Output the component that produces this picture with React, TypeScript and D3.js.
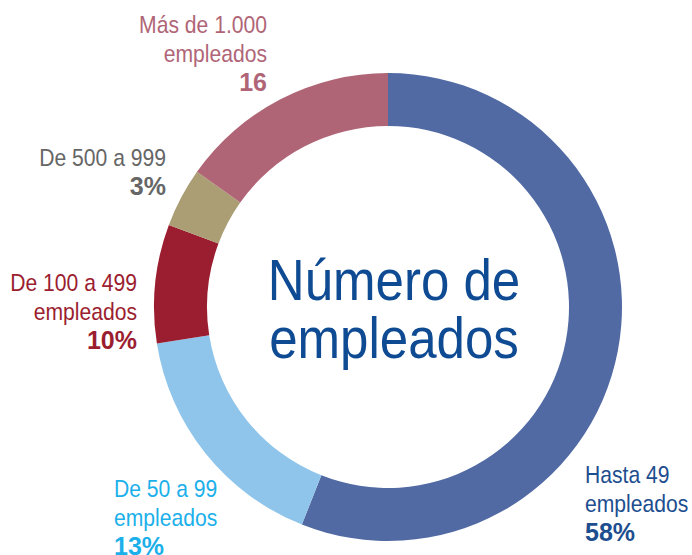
import * as d3 from "d3";

// segment sizes as drawn in the ring (percent of the circle), clockwise from 12 o'clock
const categories = ["Hasta 49", "De 50 a 99", "De 100 a 499", "De 500 a 999", "Más de 1.000"];
const shares = [56.0, 16.5, 8.2, 4.1, 15.2];
const labelValues = ["58%", "13%", "10%", "3%", "16"];
const sliceColors = ["#516aa4", "#8fc5eb", "#9b1e30", "#ab9e75", "#b06577"];
const textColors = ["#1d4e8f", "#1cb0ea", "#9b1e30", "#666666", "#b06577"];
const secondLines = ["empleados", "empleados", "empleados", "", "empleados"];

const W = 692;
const H = 555;
const cx = 388;
const cy = 307;
const outerR = 234;
const innerR = 181;
const FONT = "'Liberation Sans', Arial, sans-serif";
const NARROW = 0.88; // condensed look

// label anchors: x, first baseline, alignment
const labelPos: [number, number, "start" | "end"][] = [
  [585, 483, "start"],
  [114, 497, "start"],
  [137, 291, "end"],
  [166, 166, "end"],
  [267, 33, "end"],
];

export default function App() {
  const pie = d3.pie<number>().sort(null).value((d) => d);
  const arcs = pie(shares);
  const arc = d3.arc<d3.PieArcDatum<number>>().innerRadius(innerR).outerRadius(outerR);
  const lineH = 29;

  return (
    <svg width={W} height={H} style={{ position: "absolute", left: 0, top: 0 }}>
      <rect width={W} height={H} fill="#fff" />
      <g transform={`translate(${cx},${cy})`}>
        {arcs.map((a, i) => (
          <path key={i} d={arc(a) ?? ""} fill={sliceColors[i]} />
        ))}
      </g>
      {categories.map((c, i) => {
        const [x, y, anchor] = labelPos[i];
        const lines = secondLines[i] ? [c, secondLines[i]] : [c];
        return (
          <g key={c} fontFamily={FONT} fill={textColors[i]} textAnchor={anchor}>
            {lines.map((t, j) => (
              <text
                key={j}
                transform={`translate(${x},${y + j * lineH}) scale(${NARROW},1)`}
                fontSize={24}
              >
                {t}
              </text>
            ))}
            <text x={x} y={y + lines.length * lineH} fontSize={25} fontWeight="bold">
              {labelValues[i]}
            </text>
          </g>
        );
      })}
      <g fontFamily={FONT} fill="#0f4b93" textAnchor="middle" fontSize={58}>
        <text transform={`translate(394,300) scale(${NARROW},1)`}>Número de</text>
        <text transform={`translate(394,358) scale(${NARROW},1)`}>empleados</text>
      </g>
    </svg>
  );
}
